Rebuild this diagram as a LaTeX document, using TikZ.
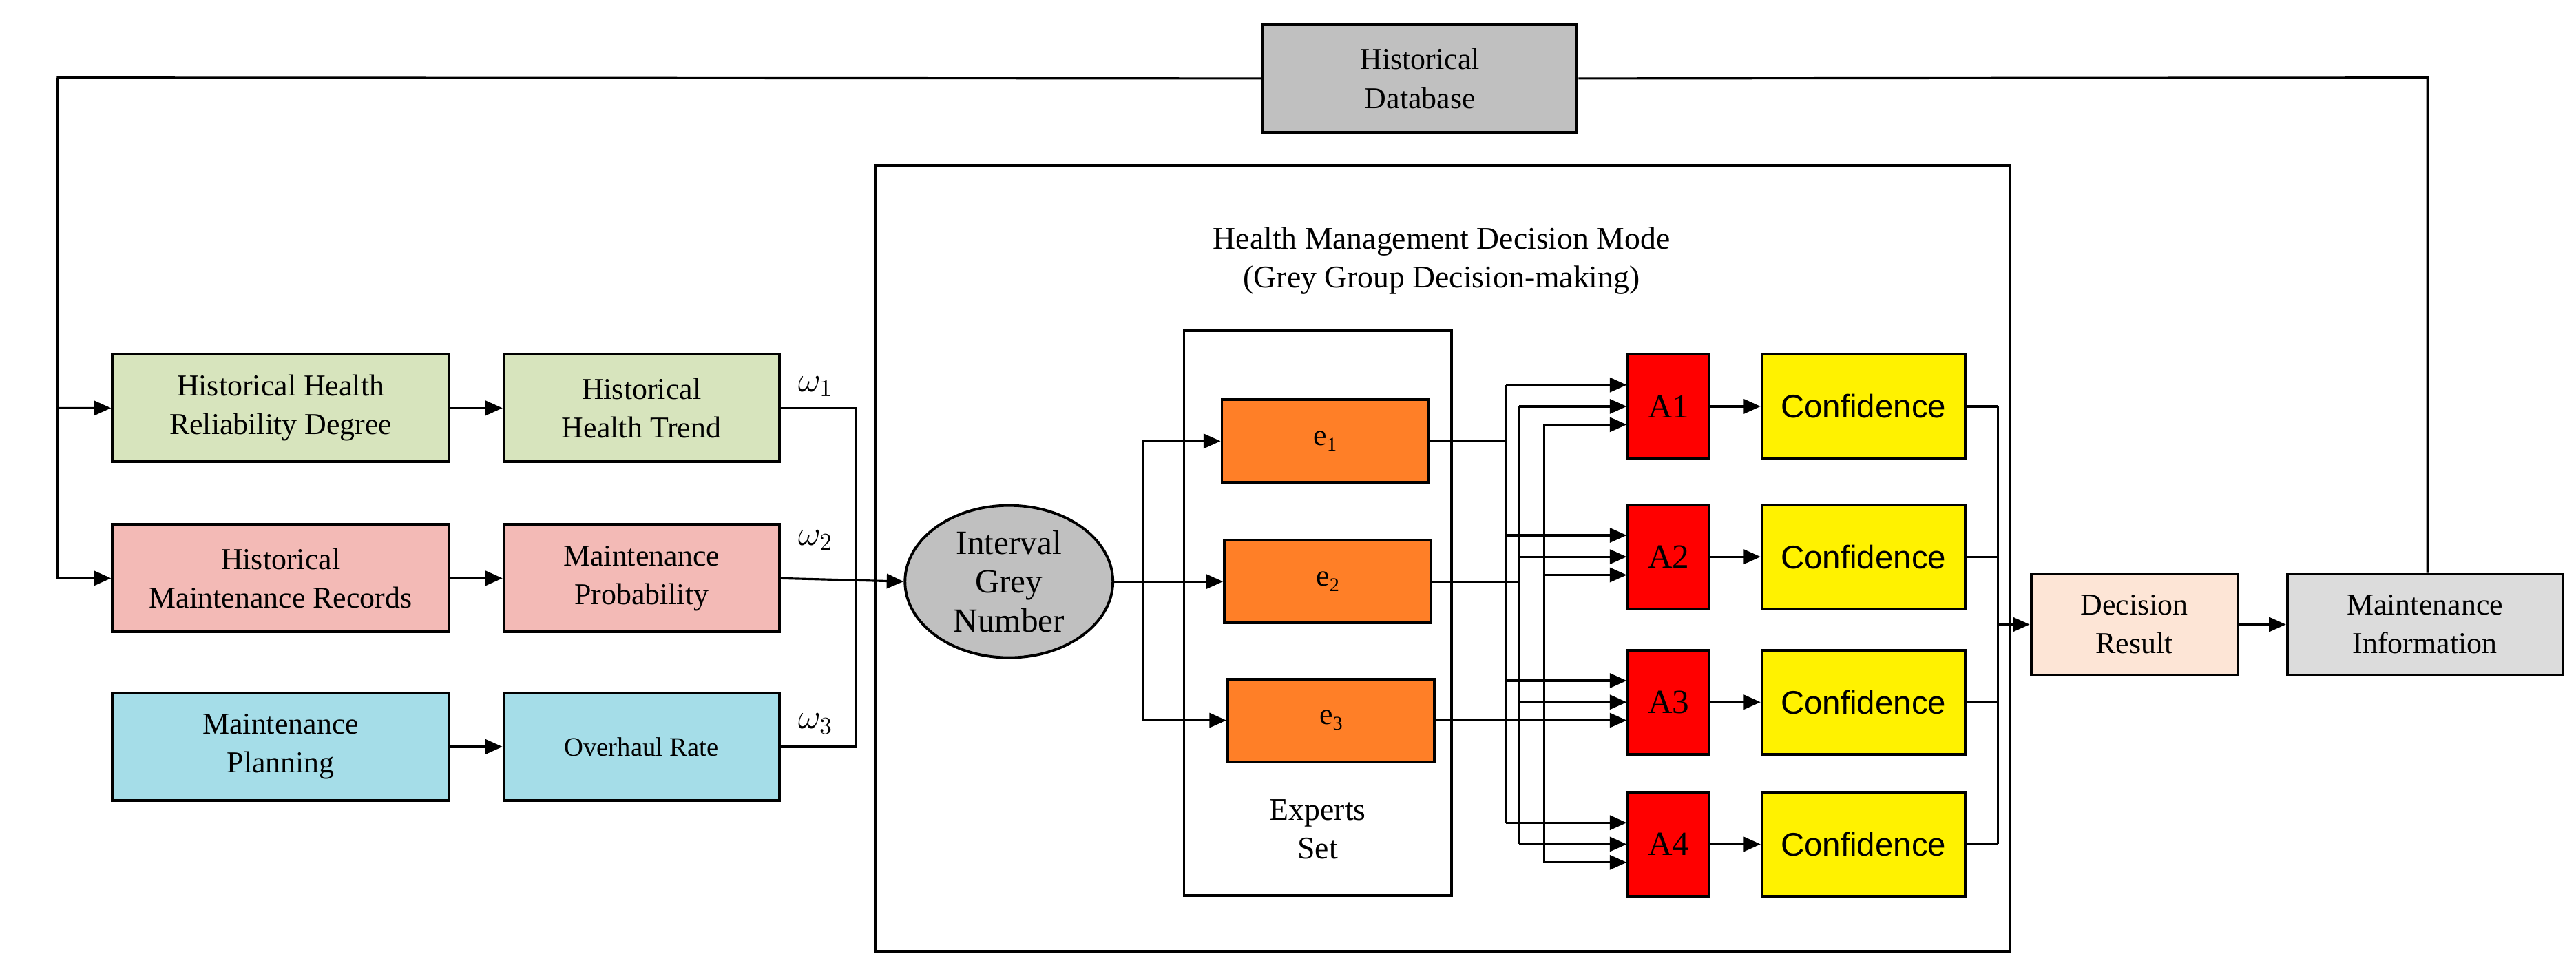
\documentclass[tikz,border=0pt]{standalone}
\usepackage{fontspec}
\setmainfont{Liberation Serif}
\newfontfamily\sansf{Liberation Sans}
\usetikzlibrary{arrows.meta,shapes.geometric,calc}
\definecolor{cgreen}{HTML}{D7E4BD}
\definecolor{cpink}{HTML}{F3BAB6}
\definecolor{cblue}{HTML}{A5DDE8}
\definecolor{cgray}{HTML}{C0C0C0}
\definecolor{corange}{HTML}{FF7F27}
\definecolor{cpeach}{HTML}{FDE5D6}
\definecolor{clight}{HTML}{DCDCDC}
\begin{document}
\begin{tikzpicture}[x=0.02398cm,y=-0.02398cm,
  box/.style={draw,line width=1.1pt,align=center,inner sep=1pt,font=\fontsize{12.5}{16}\selectfont},
  wide/.style={box,minimum width=4.89cm,minimum height=1.56cm},
  mid/.style={box,minimum width=4.0cm,minimum height=1.56cm},
  ebox/.style={box,fill=corange,minimum width=3.0cm,minimum height=1.2cm},
  abox/.style={box,fill=red,minimum width=1.18cm,minimum height=1.51cm,font=\fontsize{14}{16}\selectfont},
  cbox/.style={box,fill=yellow,minimum width=2.95cm,minimum height=1.51cm,font=\sansf\fontsize{13.5}{16}\selectfont},
  ln/.style={line width=0.9pt},
  ar/.style={ln,-{Triangle[length=7pt,width=6pt]}},
  lab/.style={font=\fontsize{13}{16}\selectfont,align=center}]
\useasboundingbox (0,0) rectangle (1560,587);
% frames
\draw[line width=1.1pt] (530,100) rectangle (1217,576);
\draw[line width=1.1pt] (717,200) rectangle (879,542);
\node[lab] (title) at (873,158) {Health Management Decision Mode\\(Grey Group Decision-making)};
\node[lab] (exp) at (798,502) {Experts\\Set};
% nodes
\node[box,fill=cgray,minimum width=4.56cm,minimum height=1.56cm] (db) at (860,47.5) {Historical\\Database};
\node[wide,fill=cgreen] (g1) at (170,247) {Historical Health\\Reliability Degree};
\node[mid,fill=cgreen] (g2) at (388.5,247) {Historical\\Health Trend};
\node[wide,fill=cpink] (p1) at (170,350) {Historical\\Maintenance Records};
\node[mid,fill=cpink] (p2) at (388.5,350) {Maintenance\\Probability};
\node[wide,fill=cblue] (b1) at (170,452) {Maintenance\\Planning};
\node[mid,fill=cblue,font=\fontsize{11}{14}\selectfont] (b2) at (388.5,452) {Overhaul Rate};
\node[draw,line width=1.1pt,ellipse,fill=cgray,minimum width=3.02cm,minimum height=2.21cm,inner sep=0pt,align=center,font=\fontsize{14}{16}\selectfont] (ell) at (611,352) {Interval\\Grey\\Number};
\node[ebox] (e1) at (802.5,267) {e\raisebox{-0.4ex}{\footnotesize 1}};
\node[ebox] (e2) at (804,352) {e\raisebox{-0.4ex}{\footnotesize 2}};
\node[ebox] (e3) at (806,436) {e\raisebox{-0.4ex}{\footnotesize 3}};
\node[abox] (a1) at (1010.5,246) {A1};
\node[abox] (a2) at (1010.5,337) {A2};
\node[abox] (a3) at (1010.5,425) {A3};
\node[abox] (a4) at (1010.5,511) {A4};
\node[cbox] (c1) at (1128.5,246) {Confidence};
\node[cbox] (c2) at (1128.5,337) {Confidence};
\node[cbox] (c3) at (1128.5,425) {Confidence};
\node[cbox] (c4) at (1128.5,511) {Confidence};
\node[box,fill=cpeach,minimum width=3.0cm,minimum height=1.46cm] (dr) at (1292.5,378) {Decision\\Result};
\node[box,fill=clight,minimum width=4.0cm,minimum height=1.46cm] (mi) at (1468.5,378) {Maintenance\\Information};
% omega labels
\node[font=\fontsize{14}{16}\selectfont] (w1) at (494,234) {$\omega_1$};
\node[font=\fontsize{14}{16}\selectfont] (w2) at (494,327) {$\omega_2$};
\node[font=\fontsize{14}{16}\selectfont] (w3) at (494,438) {$\omega_3$};
% feedback
\coordinate (tl) at (35,47);
\coordinate (tr) at (1470,47);
\draw[ar] (db.west) -- (tl) |- (g1.west);
\draw[ar] (tl) |- (p1.west);
\draw[ln] (db.east) -- (tr) -- (tr |- mi.north);
% rows
\draw[ar] (g1) -- (g2);
\draw[ar] (p1) -- (p2);
\draw[ar] (b1) -- (b2);
\coordinate (wb1) at (518,247);
\coordinate (wb3) at (518,452);
\draw[ln] (g2.east) -- (wb1) -- (wb3) -- (b2.east);
\draw[ar] (p2.east) -- (ell.west);
% to experts
\coordinate (br) at (692,352);
\draw[ar] (ell.east) -- (e2.west);
\draw[ar] (br) |- (e1.west);
\draw[ar] (br) |- (e3.west);
% experts to alternatives
\coordinate (x1) at (912,267);
\coordinate (x2) at (920,352);
\coordinate (x3) at (935,436);
\draw[ln] (e1.east) -- (x1);
\draw[ln] (e2.east) -- (x2);
\draw[ln] (e3.east) -- (x3);
\foreach \a in {1,2,3,4}{
  \coordinate (t\a) at ($(a\a.west)+(0,-13)$);
  \coordinate (b\a) at ($(a\a.west)+(0,11)$);
  \draw[ar] (x1 |- t\a) -- (t\a);
  \draw[ar] (x2 |- a\a.west) -- (a\a.west);
  \draw[ar] (x3 |- b\a) -- (b\a);
  \draw[ar] (a\a) -- (c\a);
}
\draw[ln] (x1 |- t1) -- (x1 |- t4);
\draw[ln] (x2 |- a1.west) -- (x2 |- a4.west);
\draw[ln] (x3 |- b1) -- (x3 |- b4);
% outputs
\coordinate (ob1) at (1210,246);
\coordinate (ob4) at (1210,511);
\foreach \a in {1,2,3,4}{ \draw[ln] (c\a.east) -- (ob1 |- c\a.east); }
\draw[ln] (ob1) -- (ob4);
\draw[ar] (ob1 |- dr.west) -- (dr.west);
\draw[ar] (dr) -- (mi);
\end{tikzpicture}
\end{document}
